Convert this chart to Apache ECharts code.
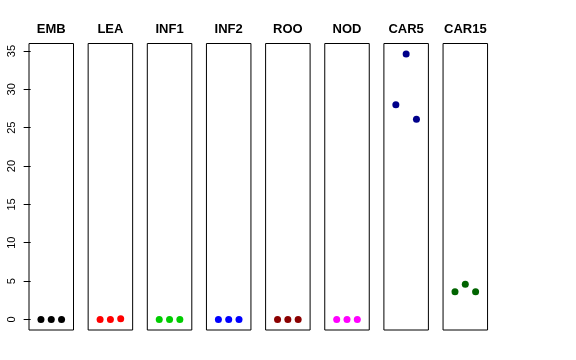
<!DOCTYPE html>
<html><head><meta charset="utf-8">
<script src="https://cdn.jsdelivr.net/npm/echarts@6/dist/echarts.min.js"></script>
<style>html,body{margin:0;padding:0;background:#fff}#c{width:576px;height:360px}</style>
</head><body><div id="c"></div>
<script>
const panels = ["EMB","LEA","INF1","INF2","ROO","NOD","CAR5","CAR15"];
const colors = ["#000000","#FF0000","#00CD00","#0000FF","#8B0000","#FF00FF","#00008B","#006400"];
const xPos = [1,2,3];
const vEMB = [0,0,0];
const vLEA = [0,0,0.1];
const vINF1 = [0,0,0];
const vINF2 = [0,0,0];
const vROO = [0,0,0];
const vNOD = [0,0,0];
const vCAR5 = [28.0,34.6,26.1];
const vCAR15 = [3.6,4.6,3.6];
const values = [vEMB,vLEA,vINF1,vINF2,vROO,vNOD,vCAR5,vCAR15];
const yTicks = [0,5,10,15,20,25,30,35];

(function(){
const left0 = 29, step = 59.15, w = 44.5, gTop = 43.5, gH = 286.5;
const grids=[],xAxes=[],yAxes=[],series=[],graphics=[];
panels.forEach((p,i)=>{
  const L = left0 + step*i;
  grids.push({left:L,top:gTop,width:w,height:gH,show:true,borderColor:'#000',borderWidth:1,backgroundColor:'transparent',containLabel:false});
  xAxes.push({gridIndex:i,type:'value',min:-0.16,max:4.16,show:false});
  yAxes.push({gridIndex:i,type:'value',min:-1.38,max:35.98,show:i===0,
    splitLine:{show:false},
    axisLine:{show:false},
    axisTick:{show:true,length:7,inside:false,customValues:yTicks,lineStyle:{color:'#000'}},
    axisLabel:{show:true,rotate:90,margin:12,customValues:yTicks,color:'#000',fontSize:11,fontFamily:'Liberation Sans, Arial, sans-serif'}
  });
  series.push({type:'scatter',xAxisIndex:i,yAxisIndex:i,symbol:'circle',symbolSize:7,
    itemStyle:{color:colors[i],opacity:1},data:xPos.map((x,k)=>[x,values[i][k]]),silent:true,animation:false});
  graphics.push({type:'text',x:L+w/2,y:29.5,silent:true,
    style:{text:p,align:'center',verticalAlign:'middle',fill:'#000',
      font:'bold 13px "Liberation Sans", Arial, sans-serif'}});
});
const chart = echarts.init(document.getElementById('c'),null,{renderer:'canvas'});
chart.setOption({animation:false,graphic:graphics,grid:grids,xAxis:xAxes,yAxis:yAxes,series:series});
})();
</script></body></html>
